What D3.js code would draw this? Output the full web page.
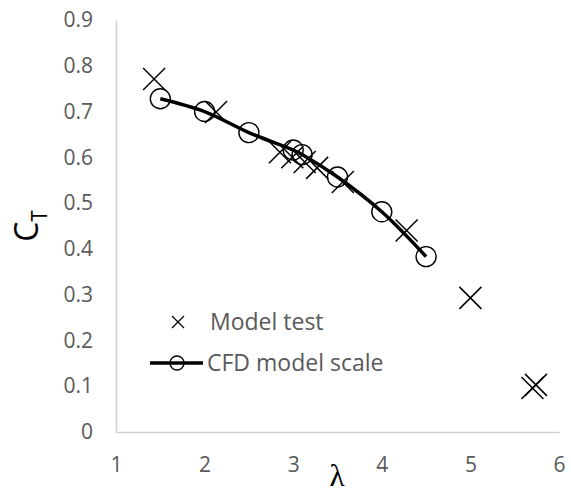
<!DOCTYPE html>
<html>
<head>
<meta charset="utf-8">
<script src="https://cdn.jsdelivr.net/npm/d3@7"></script>
<style>
  body { margin: 0; background: #fff; }
  svg { display: block; font-family: "Open Sans", sans-serif; }
</style>
</head>
<body>
<div id="chart"></div>
<script>
// model test points (lambda, Ct)
testLambda = [1.43, 2.13, 2.85, 2.99, 3.13, 3.27, 3.56, 4.28, 5.0, 5.70, 5.74]
testCt = [0.771, 0.699, 0.611, 0.600, 0.590, 0.577, 0.546, 0.440, 0.293, 0.096, 0.103]
// CFD model scale
cfdLambda = [1.5, 2.0, 2.5, 3.0, 3.1, 3.5, 4.0, 4.5]
cfdCt = [0.728, 0.700, 0.654, 0.616, 0.606, 0.557, 0.481, 0.383]
xTicks = [1, 2, 3, 4, 5, 6]
yTicks = [0, 0.1, 0.2, 0.3, 0.4, 0.5, 0.6, 0.7, 0.8, 0.9]
seriesNames = ["Model test", "CFD model scale"]

width = 571
height = 495
margin = ({top: 20, right: 12, bottom: 63, left: 116})

x = d3.scaleLinear().domain([1, 6]).range([margin.left, width - margin.right])
y = d3.scaleLinear().domain([0, 0.9]).range([height - margin.bottom, margin.top])

const svg = d3.select("#chart").append("svg")
  .attr("width", width)
  .attr("height", height)

const grey = "#595959"
const axisColor = "#d0d0d0"

// axes
svg.append("g")
  .attr("transform", `translate(0,${y(0)})`)
  .call(d3.axisBottom(x).tickValues(xTicks).tickSize(0).tickPadding(25).tickFormat(d3.format("d")))
svg.append("g")
  .attr("transform", `translate(${x(1)},0)`)
  .call(d3.axisLeft(y).tickValues(yTicks).tickSize(0).tickPadding(23).tickFormat(d => d === 0 ? "0" : d3.format(".1f")(d)))

svg.selectAll(".domain").attr("stroke", axisColor).attr("stroke-width", 1.5)
svg.selectAll(".tick text")
  .attr("fill", grey)
  .style("font-family", "'Open Sans', sans-serif")
  .style("font-size", "21px")

// axis titles
const ctLabel = svg.append("text")
  .attr("transform", `translate(38,${(y(0.4) + y(0.5)) / 2}) rotate(-90)`)
  .attr("text-anchor", "middle")
  .attr("fill", "#000")
  .style("font-size", "32px")
ctLabel.append("tspan").text("C")
ctLabel.append("tspan").text("T").attr("dy", 9).style("font-size", "21px")

svg.append("text")
  .attr("x", 337)
  .attr("y", 486)
  .attr("text-anchor", "middle")
  .attr("fill", "#000")
  .style("font-family", "'Liberation Serif', 'DejaVu Serif', serif")
  .style("font-size", "31px")
  .text("λ")

// CFD curve
const cfd = cfdLambda.map((l, i) => [l, cfdCt[i]])
const line = d3.line()
  .x(d => x(d[0]))
  .y(d => y(d[1]))
  .curve(d3.curveCatmullRom)

svg.append("path")
  .datum(cfd)
  .attr("fill", "none")
  .attr("stroke", "#000")
  .attr("stroke-width", 3.5)
  .attr("d", line)

svg.append("g")
  .selectAll("circle")
  .data(cfd)
  .enter().append("circle")
  .attr("cx", d => x(d[0]))
  .attr("cy", d => y(d[1]))
  .attr("r", 10)
  .attr("fill", "none")
  .attr("stroke", "#000")
  .attr("stroke-width", 1.4)

// cross markers
const cross = s => `M${-s},${-s}L${s},${s}M${-s},${s}L${s},${-s}`
const tests = testLambda.map((l, i) => [l, testCt[i]])
svg.append("g")
  .selectAll("path")
  .data(tests)
  .enter().append("path")
  .attr("transform", d => `translate(${x(d[0])},${y(d[1])})`)
  .attr("d", cross(11))
  .attr("stroke", "#000")
  .attr("stroke-width", 1.5)
  .attr("fill", "none")

// legend
const legend = svg.append("g")
legend.append("path")
  .attr("transform", "translate(178,322)")
  .attr("d", cross(6))
  .attr("stroke", "#000")
  .attr("stroke-width", 1.3)
legend.append("line")
  .attr("x1", 150).attr("x2", 203)
  .attr("y1", 363).attr("y2", 363)
  .attr("stroke", "#000")
  .attr("stroke-width", 3.5)
legend.append("circle")
  .attr("cx", 177).attr("cy", 363).attr("r", 7)
  .attr("fill", "none")
  .attr("stroke", "#000")
  .attr("stroke-width", 1.3)
legend.selectAll("text")
  .data(seriesNames)
  .enter().append("text")
  .attr("x", (d, i) => i === 0 ? 210 : 207)
  .attr("y", (d, i) => i === 0 ? 330 : 371)
  .attr("fill", grey)
  .style("font-size", "23px")
  .text(d => d)
</script>
</body>
</html>
